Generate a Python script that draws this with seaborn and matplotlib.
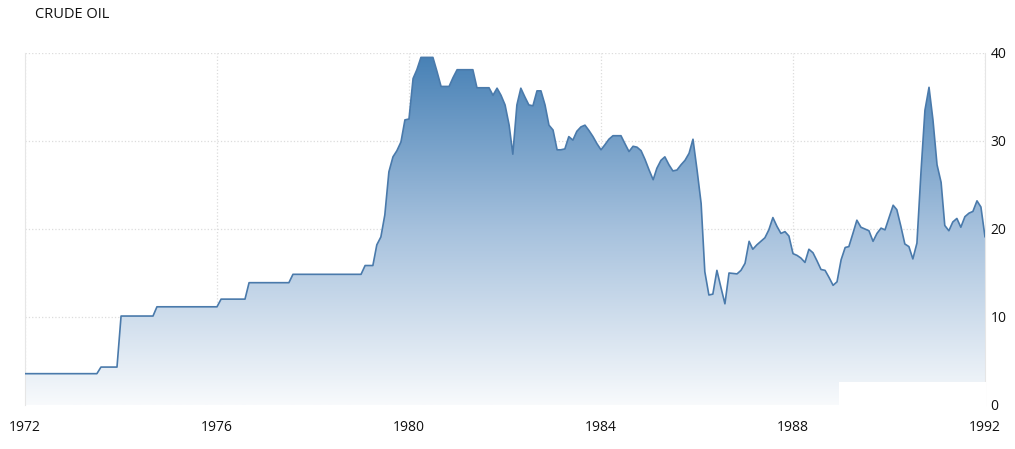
import numpy as np
import pandas as pd
import matplotlib
matplotlib.use('Agg')
import matplotlib.pyplot as plt
import matplotlib.dates as mdates
import seaborn as sns
from matplotlib.colors import LinearSegmentedColormap
from matplotlib.patches import Rectangle

# Petróleo bruto, preço mensal (US$/barril), jan/1972 a jan/1992
prices_1972_1976 = [3.56] * 19 + [4.31] * 5 + [10.11] * 9 + [11.16] * 16 + [12.03] * 7 + [13.9] * 4
prices_1977_1979 = [13.9] * 7 + [14.85] * 18 + [15.85] * 3 + [18.2, 19.1, 21.6, 26.5, 28.2, 28.9, 29.9, 32.4]
prices_1980_1982 = [32.5, 37.1, 38.1, 39.5, 39.5, 39.5, 39.5, 37.9, 36.2, 36.2, 36.2, 37.2,
                    38.1, 38.1, 38.1, 38.1, 38.1, 36.05, 36.05, 36.05, 36.05, 35.2, 36.0, 35.2,
                    34.1, 31.8, 28.5, 34.1, 36.0, 35.0, 34.1, 34.0, 35.7, 35.7, 34.1, 31.8]
prices_1983_1985 = [31.25, 29.0, 29.0, 29.1, 30.5, 30.1, 31.1, 31.6, 31.8, 31.2, 30.5, 29.7,
                    29.0, 29.6, 30.2, 30.6, 30.6, 30.6, 29.7, 28.8, 29.4, 29.3, 28.9, 27.9,
                    26.7, 25.6, 26.9, 27.8, 28.2, 27.3, 26.6, 26.7, 27.3, 27.8, 28.6, 30.2]
prices_1986_1988 = [26.7, 22.9, 15.15, 12.5, 12.6, 15.3, 13.4, 11.5, 15.0, 14.95, 14.9, 15.3,
                    16.1, 18.6, 17.7, 18.2, 18.6, 19.0, 19.9, 21.3, 20.3, 19.5, 19.7, 19.2,
                    17.2, 17.0, 16.7, 16.2, 17.7, 17.3, 16.4, 15.4, 15.3, 14.5, 13.6, 14.0]
prices_1989_1992 = [16.5, 17.9, 18.0, 19.5, 21.0, 20.2, 20.0, 19.8, 18.6, 19.5, 20.1, 19.9,
                    21.3, 22.7, 22.2, 20.3, 18.3, 18.0, 16.6, 18.4, 26.5, 33.5, 36.1, 32.4,
                    27.3, 25.3, 20.4, 19.8, 20.8, 21.2, 20.2, 21.4, 21.8, 22.0, 23.2, 22.5,
                    19.1]

year_ticks = [1972, 1976, 1980, 1984, 1988, 1992]
price_ticks = [0, 10, 20, 30, 40]

prices = (prices_1972_1976 + prices_1977_1979 + prices_1980_1982
          + prices_1983_1985 + prices_1986_1988 + prices_1989_1992)
df = pd.DataFrame({'Data': pd.date_range('1972-01-01', periods=len(prices), freq='MS'),
                   'Preco': prices})

sns.set_theme(style='white')
plt.rcParams['font.family'] = ['Open Sans', 'DejaVu Sans']

fig = plt.figure(figsize=(10.15, 4.49), dpi=100)
ax = fig.add_axes([25 / 1015, 44 / 449, 960 / 1015, 352 / 449])

# Linha
sns.lineplot(data=df, x='Data', y='Preco', ax=ax, color='#4a7aab', linewidth=1.2, zorder=3)

# Área com degradê
poly = ax.fill_between(df['Data'], df['Preco'], 0, color='none', linewidth=0)
cmap = LinearSegmentedColormap.from_list('oil', ['#f8fafc', '#a6c1dd', '#4680b5'])
x0 = mdates.date2num(pd.Timestamp('1972-01-01'))
x1 = mdates.date2num(pd.Timestamp('1992-01-01'))
grad = np.linspace(0, 1, 256).reshape(-1, 1)
im = ax.imshow(grad, extent=[x0, x1, 0, 40], aspect='auto', cmap=cmap, origin='lower', zorder=2)
im.set_clip_path(poly.get_paths()[0], transform=ax.transData)

ax.set_xlim(x0, x1)
ax.set_ylim(0, 40)
ax.set_xticks([mdates.date2num(pd.Timestamp(f'{y}-01-01')) for y in year_ticks])
ax.set_xticklabels([str(y) for y in year_ticks])
ax.set_yticks(price_ticks)
ax.set_yticklabels([str(v) for v in price_ticks])
ax.yaxis.tick_right()
ax.tick_params(axis='y', length=0, pad=4, labelsize=10, colors='#111111')
ax.tick_params(axis='x', length=0, pad=11, labelsize=10, colors='#111111')
ax.set_xlabel('')
ax.set_ylabel('')

ax.grid(True, color='#dcdcdc', linestyle=':', linewidth=0.9)
ax.set_axisbelow(True)
for side in ['top', 'bottom']:
    ax.spines[side].set_visible(False)
for side in ['left', 'right']:
    ax.spines[side].set_color('#e6e6e6')
    ax.spines[side].set_linewidth(0.8)

fig.text(35 / 1015, 1 - 15 / 449, 'CRUDE OIL', va='center', ha='left', fontsize=10.5, color='#111111')

# Faixa branca no canto inferior direito
fig.patches.append(Rectangle((839 / 1015, (449 - 407) / 449), 147 / 1015, 25 / 449,
                             transform=fig.transFigure, facecolor='white', edgecolor='none', zorder=5))

fig.savefig('out.png', dpi=100)
